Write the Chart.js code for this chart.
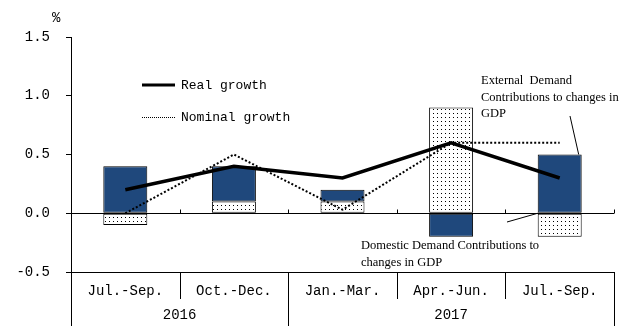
<!DOCTYPE html>
<html>
<head>
<meta charset="utf-8">
<script src="https://cdn.jsdelivr.net/npm/chart.js@4.4.1/dist/chart.umd.min.js"></script>
<style>
  html, body { margin: 0; padding: 0; background: #fff; }
  #wrap { width: 640px; height: 333px; }
</style>
</head>
<body>
<div id="wrap"><canvas id="gdpChart"></canvas></div>
<script>
// quarterly contributions to GDP change, %
const quarters = ['Jul.-Sep.', 'Oct.-Dec.', 'Jan.-Mar.', 'Apr.-Jun.', 'Jul.-Sep.'];
const years = ['2016', '2016', '2017', '2017', '2017'];
const domesticDemand = [-0.1, 0.1, 0.1, 0.9, -0.2];
const externalDemand = [0.4, 0.3, 0.1, -0.2, 0.5];
const realGrowth = [0.2, 0.4, 0.3, 0.6, 0.3];
const nominalGrowth = [0.0, 0.5, 0.03, 0.6, 0.6];
const yTicks = [-0.5, 0.0, 0.5, 1.0, 1.5];

const MONO = '"Liberation Mono", "DejaVu Sans Mono", monospace';
const SERIF = '"Liberation Serif", "DejaVu Serif", serif';
const NAVY = 'rgb(31, 72, 124)';

// white fill with a fine grid of dots
function dotPattern() {
  const c = document.createElement('canvas');
  c.width = 4; c.height = 4;
  const g = c.getContext('2d');
  g.fillStyle = '#fff';
  g.fillRect(0, 0, 4, 4);
  g.fillStyle = '#000';
  g.fillRect(1, 1, 1, 1);
  return g.createPattern(c, 'repeat');
}

function line(ctx, x1, y1, x2, y2) {
  ctx.beginPath();
  ctx.moveTo(x1, y1);
  ctx.lineTo(x2, y2);
  ctx.stroke();
}

const decorations = {
  id: 'decorations',
  beforeDatasetsDraw(chart) {
    const { ctx, chartArea } = chart;
    const y0 = Math.round(chart.scales.y.getPixelForValue(0)) + 0.5;
    const step = (chartArea.right - chartArea.left) / quarters.length;
    ctx.save();
    ctx.strokeStyle = '#000';
    ctx.lineWidth = 1;
    // small upward ticks on the zero line at each quarter boundary
    for (let i = 1; i <= quarters.length; i++) {
      const px = Math.round(chartArea.left + i * step) + 0.5;
      line(ctx, px, y0, px, y0 - 4);
    }
    ctx.restore();
  },
  afterDraw(chart) {
    const { ctx, chartArea } = chart;
    const { left, right, bottom } = chartArea;
    const n = quarters.length;
    const step = (right - left) / n;
    ctx.save();
    ctx.strokeStyle = '#000';
    ctx.fillStyle = '#000';
    ctx.lineWidth = 1;

    // quarter and year separators below the axis
    for (let i = 0; i <= n; i++) {
      const px = Math.round(left + i * step) + 0.5;
      const yearEdge = i === 0 || i === n || years[i] !== years[i - 1];
      line(ctx, px, bottom, px, bottom + (yearEdge ? 54 : 27));
    }

    // year labels centred under their quarters
    ctx.font = '14px ' + MONO;
    ctx.textAlign = 'center';
    ctx.textBaseline = 'middle';
    let start = 0;
    for (let i = 1; i <= n; i++) {
      if (i === n || years[i] !== years[start]) {
        const cx = left + (start + i) / 2 * step;
        ctx.fillText(years[start], cx, bottom + 43);
        start = i;
      }
    }

    // unit label
    ctx.textAlign = 'left';
    ctx.fillText('%', 52, 18);

    // legend
    const ds = chart.data.datasets;
    ctx.font = '13px ' + MONO;
    ctx.lineWidth = 3;
    line(ctx, 142, 85, 175, 85);
    ctx.fillText(ds[2].label, 181, 86);
    ctx.lineWidth = 1;
    ctx.setLineDash([1, 1]);
    line(ctx, 142, 117.5, 175, 117.5);
    ctx.setLineDash([]);
    ctx.fillText(ds[3].label, 181, 118);

    // callouts
    const y = chart.scales.y;
    const extBar = chart.getDatasetMeta(1).data[4];
    const domBar = chart.getDatasetMeta(0).data[4];
    ctx.font = '12.5px ' + SERIF;
    ctx.textBaseline = 'middle';
    ctx.fillText('External  Demand', 481, 81);
    ctx.fillText('Contributions to changes in', 481, 98);
    ctx.fillText('GDP', 481, 114);
    line(ctx, 570, 116, extBar.x + extBar.width / 2 - 3, y.getPixelForValue(externalDemand[4]));

    ctx.fillText('Domestic Demand Contributions to', 361, 246);
    ctx.fillText('changes in GDP', 361, 263);
    line(ctx, 507, 222, domBar.x - domBar.width / 2, y.getPixelForValue(0));
    ctx.restore();
  }
};

const dots = dotPattern();

new Chart(document.getElementById('gdpChart'), {
  data: {
    labels: quarters,
    datasets: [
      {
        type: 'bar',
        label: 'Domestic Demand Contributions to changes in GDP',
        data: domesticDemand,
        backgroundColor: dots,
        borderColor: '#000',
        borderWidth: 1,
        borderSkipped: false,
        stack: 'gdp',
        order: 2
      },
      {
        type: 'bar',
        label: 'External Demand Contributions to changes in GDP',
        data: externalDemand,
        backgroundColor: NAVY,
        borderColor: '#000',
        borderWidth: 1,
        borderSkipped: false,
        stack: 'gdp',
        order: 2
      },
      {
        type: 'line',
        label: 'Real growth',
        data: realGrowth,
        borderColor: '#000',
        borderWidth: 3.5,
        pointRadius: 0,
        tension: 0,
        stack: 'real',
        order: 0
      },
      {
        type: 'line',
        label: 'Nominal growth',
        data: nominalGrowth,
        borderColor: '#000',
        borderWidth: 2,
        borderDash: [2, 2],
        pointRadius: 0,
        tension: 0,
        stack: 'nominal',
        order: 1
      }
    ]
  },
  options: {
    responsive: true,
    maintainAspectRatio: false,
    animation: false,
    devicePixelRatio: 1,
    layout: { padding: { left: 0, right: 26, top: 37, bottom: 0 } },
    datasets: {
      bar: { barPercentage: 0.405, categoryPercentage: 1 }
    },
    plugins: {
      legend: { display: false },
      tooltip: { enabled: false }
    },
    scales: {
      x: {
        stacked: true,
        offset: true,
        grid: { display: false, drawTicks: false },
        border: { color: '#000', width: 1 },
        ticks: {
          color: '#000',
          font: { family: MONO, size: 14 },
          padding: 11,
          maxRotation: 0,
          autoSkip: false
        },
        afterFit(scale) { scale.height = 61; }
      },
      y: {
        stacked: true,
        min: -0.5,
        max: 1.5,
        afterBuildTicks(scale) { scale.ticks = yTicks.map(v => ({ value: v })); },
        grid: {
          color: ctx => (ctx.tick && ctx.tick.value === 0 ? '#000' : 'rgba(0,0,0,0)'),
          tickColor: '#000',
          tickLength: 5,
          drawTicks: true
        },
        border: { color: '#000', width: 1 },
        ticks: {
          color: '#000',
          font: { family: MONO, size: 14 },
          padding: 16,
          callback: v => Number(v).toFixed(1)
        },
        afterFit(scale) { scale.width = 71; }
      }
    }
  },
  plugins: [decorations]
});
</script>
</body>
</html>
